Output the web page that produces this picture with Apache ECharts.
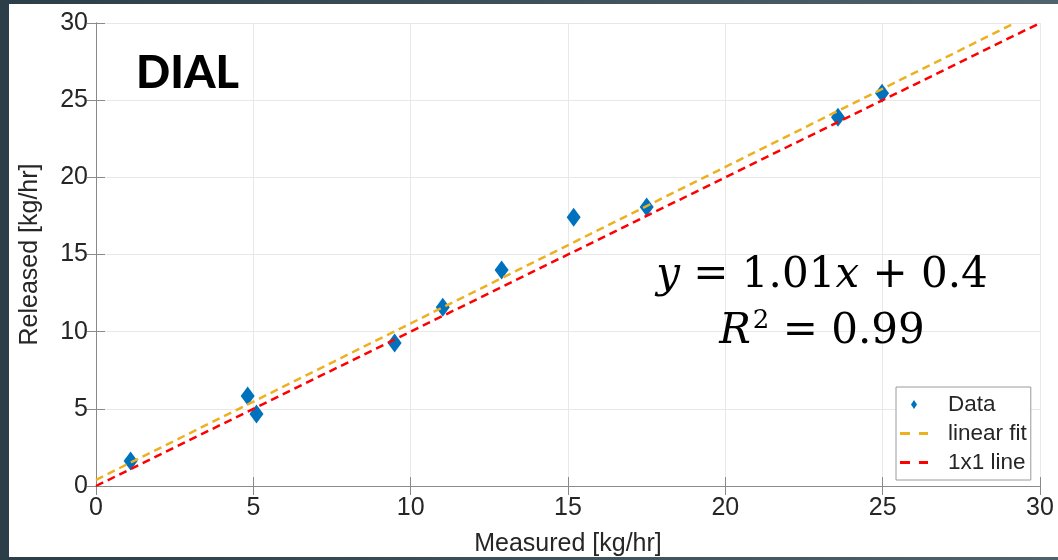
<!DOCTYPE html>
<html>
<head>
<meta charset="utf-8">
<script src="https://cdn.jsdelivr.net/npm/echarts@6/dist/echarts.min.js"></script>
<style>
  html, body { margin: 0; padding: 0; width: 1058px; height: 560px; overflow: hidden;
    background: linear-gradient(to right, #2c3e48, #50636d); }
  #chart { position: absolute; left: 9px; top: 4px; width: 1049px; height: 553px; background: #fff; }
</style>
</head>
<body>
<div id="chart"></div>
<script>
// ---- data ----
const measured = [1.1, 4.82, 5.1, 9.49, 11.02, 12.89, 15.18, 17.5, 23.58, 24.98];
const released = [1.62, 5.83, 4.66, 9.26, 11.59, 13.99, 17.42, 18.07, 23.9, 25.45];
const fitLineX = [0, 29.2];
const fitLineY = [0.4, 30];
const oneLineX = [0, 30];
const oneLineY = [0, 30];
const axisTicks = [0, 5, 10, 15, 20, 25, 30];
const seriesNames = ['Data', 'linear fit', '1x1 line'];
const labelText = 'DIAL';
const eqLine1 = '{i|y} = 1.01{i|x} + 0.4';
const eqLine2 = '{i|R}{s|2} = 0.99';

const zip = (a, b) => a.map((v, i) => [v, b[i]]);

const chart = echarts.init(document.getElementById('chart'), null, { renderer: 'canvas' });
const axisMin = axisTicks[0], axisMax = axisTicks[axisTicks.length - 1];
const step = axisTicks[1] - axisTicks[0];
const FONT = 'Liberation Sans, Arial, sans-serif';
const tickFont = { color: '#262626', fontSize: 25, fontFamily: FONT };
const axisLineStyle = { show: true, lineStyle: { color: '#8a8a8a', width: 1 } };
const tickStyle = { show: true, inside: true, length: 9, lineStyle: { color: '#8a8a8a', width: 1 } };
const split = { show: true, lineStyle: { color: '#e8e8e8', width: 1 } };
const dashIcon = 'path://M0,0M28,14M0,5.6H10V8.4H0Z M19,5.6H28V8.4H19Z';
const diamondIcon = 'path://M0,0M28,14M14,2.5L17,7L14,11.5L11,7Z';

const option = {
  animation: false,
  grid: { left: 87, right: 18, top: 19, bottom: 71, containLabel: false, outerBoundsMode: 'none' },
  xAxis: [
    { type: 'value', min: axisMin, max: axisMax, interval: step, position: 'bottom',
      name: 'Measured [kg/hr]', nameLocation: 'middle', nameGap: 46,
      nameTextStyle: { color: '#262626', fontSize: 25, fontFamily: FONT },
      axisLine: axisLineStyle, axisTick: tickStyle, splitLine: split,
      axisLabel: Object.assign({ margin: 10 }, tickFont) },
    { type: 'value', min: axisMin, max: axisMax, interval: step, position: 'top',
      axisLine: axisLineStyle, axisTick: tickStyle, splitLine: { show: false }, axisLabel: { show: false } }
  ],
  yAxis: [
    { type: 'value', min: axisMin, max: axisMax, interval: step, position: 'left',
      name: 'Released [kg/hr]', nameLocation: 'middle', nameGap: 53, nameRotate: 90,
      nameTextStyle: { color: '#262626', fontSize: 25, fontFamily: FONT },
      axisLine: axisLineStyle, axisTick: tickStyle, splitLine: split,
      axisLabel: Object.assign({ margin: 8 }, tickFont) },
    { type: 'value', min: axisMin, max: axisMax, interval: step, position: 'right',
      axisLine: axisLineStyle, axisTick: tickStyle, splitLine: { show: false }, axisLabel: { show: false } }
  ],
  legend: {
    orient: 'vertical', left: 887, top: 383,
    padding: [6, 4, 6, 4], itemGap: 6, itemWidth: 28, itemHeight: 14,
    backgroundColor: '#ffffff', borderColor: '#9a9a9a', borderWidth: 1, borderRadius: 0,
    textStyle: { color: '#262626', fontSize: 22.5, fontFamily: FONT,
      padding: [0, 0, 0, 15], lineHeight: 22 },
    data: [
      { name: seriesNames[0], icon: diamondIcon, itemStyle: { color: '#0072BD' } },
      { name: seriesNames[1], icon: dashIcon, itemStyle: { color: '#EDB120' } },
      { name: seriesNames[2], icon: dashIcon, itemStyle: { color: '#FF0000' } }
    ]
  },
  series: [
    { name: seriesNames[0], type: 'scatter', symbol: 'diamond', symbolSize: [14, 19],
      itemStyle: { color: '#0072BD', opacity: 1 }, data: zip(measured, released), z: 2 },
    { name: seriesNames[1], type: 'line', showSymbol: false, symbol: 'none',
      lineStyle: { color: '#EDB120', width: 2.5, type: [8, 5] }, itemStyle: { color: '#EDB120' },
      data: zip(fitLineX, fitLineY), z: 3 },
    { name: seriesNames[2], type: 'line', showSymbol: false, symbol: 'none',
      lineStyle: { color: '#FF0000', width: 2.5, type: [8, 5] }, itemStyle: { color: '#FF0000' },
      data: zip(oneLineX, oneLineY), z: 4 }
  ],
  graphic: [
    { type: 'text', left: 127, top: 47, z: 10,
      style: { text: labelText, fill: '#000', font: '900 45px Lato, sans-serif' } },
    { type: 'text', x: 813, y: 272, z: 10,
      style: { text: eqLine1, fill: '#000', fontSize: 42, fontFamily: 'DejaVu Serif, serif',
        align: 'center', verticalAlign: 'middle',
        rich: { i: { fontStyle: 'italic', fontSize: 42, fontFamily: 'DejaVu Serif, serif' } } } },
    { type: 'text', x: 813, y: 328, z: 10,
      style: { text: eqLine2, fill: '#000', fontSize: 42, fontFamily: 'DejaVu Serif, serif',
        align: 'center', verticalAlign: 'middle',
        rich: { i: { fontStyle: 'italic', fontSize: 42, fontFamily: 'DejaVu Serif, serif' },
                s: { fontSize: 26, fontFamily: 'DejaVu Serif, serif', padding: [0, 0, 22, 2] } } } }
  ]
};
chart.setOption(option);
</script>
</body>
</html>
